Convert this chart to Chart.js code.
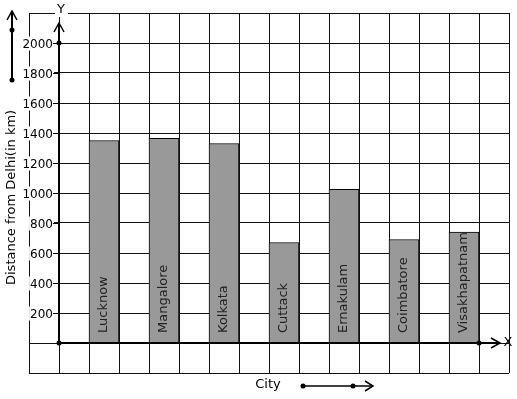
<!DOCTYPE html>
<html>
<head>
<meta charset="utf-8">
<script src="https://cdn.jsdelivr.net/npm/chart.js@4/dist/chart.umd.min.js"></script>
<style>
html,body{margin:0;padding:0;background:#fff;}
#wrap{width:517px;height:399px;}
</style>
</head>
<body>
<div id="wrap"><canvas id="c" width="517" height="399"></canvas></div>
<script>
const cities = ['Lucknow','Mangalore','Kolkata','Cuttack','Ernakulam','Coimbatore','Visakhapatnam'];
const distances = [1350, 1365, 1330, 670, 1025, 690, 740];
const yTickLabels = [200,400,600,800,1000,1200,1400,1600,1800,2000];
const xTitle = 'City';
const yTitle = 'Distance from Delhi(in km)';

const FONT = '"DejaVu Sans", sans-serif';

const points = cities.map((c, i) => ({x: 1.5 + 2 * i, y: distances[i], label: c}));

function line(ctx, pts, w) {
  ctx.beginPath();
  ctx.moveTo(pts[0][0], pts[0][1]);
  for (let i = 1; i < pts.length; i++) ctx.lineTo(pts[i][0], pts[i][1]);
  ctx.lineWidth = w;
  ctx.stroke();
}
function dot(ctx, x, y, r) {
  ctx.beginPath();
  ctx.arc(x, y, r, 0, Math.PI * 2);
  ctx.fill();
}

const overlay = {
  id: 'overlay',
  afterDatasetsDraw(chart) {
    const ctx = chart.ctx;
    const xs = chart.scales.x, ys = chart.scales.y;
    const x0 = Math.round(xs.getPixelForValue(0));
    const y0 = Math.round(ys.getPixelForValue(0));
    ctx.save();
    ctx.strokeStyle = '#000';
    ctx.fillStyle = '#000';
    ctx.lineCap = 'butt';

    // y tick labels
    ctx.font = '12px ' + FONT;
    ctx.textAlign = 'right';
    ctx.textBaseline = 'middle';
    yTickLabels.forEach(v => {
      const py = Math.round(ys.getPixelForValue(v)) + 0.5;
      const t = String(v);
      const w = ctx.measureText(t).width;
      ctx.fillStyle = '#fff';
      ctx.fillRect(x0 - 6 - w - 1, py - 7, w + 2, 14);
      ctx.fillStyle = '#000';
      ctx.fillText(t, x0 - 6, py + 1);
      line(ctx, [[x0 - 6, py], [x0, py]], 1);
    });

    // city labels inside bars
    ctx.font = '13px ' + FONT;
    ctx.fillStyle = '#222';
    ctx.textAlign = 'left';
    ctx.textBaseline = 'middle';
    points.forEach(p => {
      const px = xs.getPixelForValue(p.x);
      ctx.save();
      ctx.translate(px, y0 - 10);
      ctx.rotate(-Math.PI / 2);
      ctx.fillText(p.label, 0, 0);
      ctx.restore();
    });

    ctx.fillStyle = '#000';
    // Y axis
    const yTop = ys.getPixelForValue(2200) + 10;
    line(ctx, [[x0, y0], [x0, yTop]], 2);
    line(ctx, [[x0 - 5, yTop + 9], [x0, yTop], [x0 + 5, yTop + 9]], 1.5);
    // X axis
    const xEnd = xs.getPixelForValue(14.7);
    line(ctx, [[x0, y0], [xEnd, y0]], 2);
    line(ctx, [[xEnd - 9, y0 - 5], [xEnd, y0], [xEnd - 9, y0 + 5]], 1.5);
    dot(ctx, x0, y0, 2.5);
    dot(ctx, x0, Math.round(ys.getPixelForValue(2000)), 2.5);
    dot(ctx, xs.getPixelForValue(14), y0, 2.5);

    // axis letters
    ctx.font = '13px ' + FONT;
    ctx.textAlign = 'center';
    ctx.textBaseline = 'middle';
    ctx.fillStyle = '#fff';
    ctx.fillRect(x0 - 4, 3, 13, 14);
    ctx.fillStyle = '#000';
    ctx.fillText('Y', x0 + 2, 10);
    ctx.fillText('X', xEnd + 8, y0);

    // Left decorative arrow
    line(ctx, [[12, 80], [12, 12]], 2);
    line(ctx, [[7, 20], [12, 11], [17, 20]], 1.5);
    dot(ctx, 12, 30, 2.5);
    dot(ctx, 12, 80, 2.5);

    // Bottom decorative arrow
    line(ctx, [[303, 386], [372, 386]], 1.5);
    line(ctx, [[365, 381], [373, 386], [365, 391]], 1.5);
    dot(ctx, 303, 386, 2.5);
    dot(ctx, 353, 386, 2.5);

    // Titles
    ctx.font = '13px ' + FONT;
    ctx.textAlign = 'center';
    ctx.fillText(xTitle, 268, 385);
    ctx.save();
    ctx.translate(12, 285);
    ctx.rotate(-Math.PI / 2);
    ctx.textAlign = 'left';
    ctx.fillText(yTitle, 0, 0);
    ctx.restore();

    ctx.restore();
  }
};

new Chart(document.getElementById('c'), {
  type: 'bar',
  data: {
    datasets: [{
      data: points,
      backgroundColor: '#999999',
      borderColor: '#000',
      borderWidth: 1,
      barThickness: 30,
      borderSkipped: 'bottom'
    }]
  },
  options: {
    responsive: false,
    animation: false,
    events: [],
    layout: {padding: {left: 29, right: 8, top: 13, bottom: 26}},
    plugins: {legend: {display: false}, tooltip: {enabled: false}, title: {display: false}},
    scales: {
      x: {
        type: 'linear',
        min: -1, max: 15,
        offset: false,
        ticks: {display: false, stepSize: 1},
        grid: {color: '#111', lineWidth: 1, drawTicks: false, offset: false},
        border: {display: false},
        afterFit(s) { s.height = 0; }
      },
      y: {
        min: -200, max: 2200,
        ticks: {display: false, stepSize: 200},
        grid: {color: '#111', lineWidth: 1, drawTicks: false},
        border: {display: false},
        afterFit(s) { s.width = 0; }
      }
    }
  },
  plugins: [overlay]
});
</script>
</body>
</html>
